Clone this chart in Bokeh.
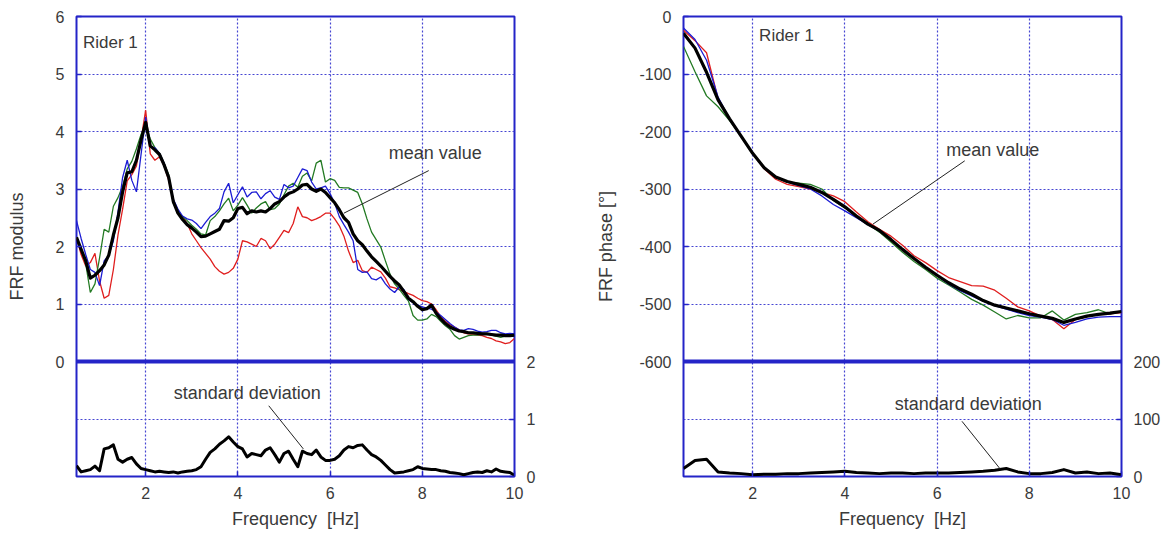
from bokeh.plotting import figure
from bokeh.models import Range1d, LinearAxis, FixedTicker, Span, Label, Arrow
from bokeh.layouts import row
from bokeh.embed import file_html
from bokeh.resources import INLINE

# ---------------- data ----------------
freq_mod = [round(0.5 + 0.1 * i, 1) for i in range(96)]

mod_mean = [2.16,1.95,1.75,1.45,1.50,1.58,1.68,1.85,2.20,2.50,
            2.95,3.28,3.30,3.50,3.85,4.16,3.75,3.68,3.60,3.42,
            3.20,2.78,2.58,2.47,2.38,2.32,2.25,2.17,2.18,2.22,
            2.26,2.30,2.45,2.44,2.50,2.66,2.68,2.57,2.62,2.60,
            2.62,2.60,2.66,2.74,2.78,2.86,2.92,2.95,3.00,3.07,
            3.08,3.00,2.96,3.00,2.94,2.85,2.76,2.64,2.50,2.42,
            2.22,2.10,2.03,1.92,1.82,1.74,1.66,1.57,1.48,1.40,
            1.33,1.22,1.10,1.04,0.96,0.90,0.92,0.98,0.84,0.74,
            0.66,0.60,0.56,0.53,0.52,0.50,0.50,0.49,0.48,0.48,
            0.47,0.46,0.46,0.45,0.45,0.46]

mod_red = [2.16,1.86,1.66,1.72,1.88,1.40,1.10,1.15,1.60,2.20,
           2.65,3.14,3.25,3.40,3.86,4.37,3.61,3.50,3.56,3.40,
           3.15,2.80,2.62,2.52,2.40,2.22,2.10,1.98,1.88,1.78,
           1.65,1.57,1.52,1.55,1.62,1.78,2.10,2.08,2.04,2.00,
           2.14,2.10,1.96,2.04,2.16,2.28,2.24,2.40,2.69,2.52,
           2.50,2.45,2.48,2.52,2.58,2.58,2.48,2.36,2.18,1.92,
           1.72,1.76,1.58,1.55,1.64,1.60,1.56,1.45,1.30,1.28,
           1.25,1.22,1.18,1.15,1.10,1.06,1.04,1.00,0.90,0.78,
           0.70,0.64,0.60,0.55,0.50,0.48,0.47,0.46,0.45,0.42,
           0.40,0.36,0.34,0.31,0.33,0.40]

mod_blue = [2.45,2.14,1.86,1.60,1.55,1.32,1.75,1.85,2.10,2.60,
            3.20,3.50,3.15,2.95,3.60,4.25,3.73,3.72,3.62,3.45,
            3.20,2.82,2.65,2.53,2.48,2.46,2.40,2.31,2.42,2.52,
            2.58,2.66,2.95,3.10,2.76,2.90,3.04,2.86,2.94,2.95,
            2.83,2.92,2.97,2.86,2.82,3.08,3.02,3.05,3.20,3.35,
            3.32,3.12,3.00,3.02,3.05,2.92,2.75,2.52,2.38,2.25,
            2.10,1.60,1.55,1.56,1.44,1.42,1.47,1.35,1.26,1.20,
            1.30,1.25,1.08,1.02,0.98,0.95,0.93,0.91,0.86,0.80,
            0.73,0.66,0.60,0.55,0.54,0.57,0.56,0.53,0.51,0.52,
            0.54,0.54,0.50,0.48,0.49,0.48]

mod_green = [2.16,1.95,1.70,1.20,1.35,1.80,2.30,2.25,2.70,2.85,
             3.05,3.35,3.48,3.70,3.95,4.10,3.87,3.72,3.62,3.45,
             3.25,2.75,2.62,2.52,2.45,2.37,2.30,2.22,2.20,2.45,
             2.52,2.62,2.74,2.84,2.62,2.72,2.85,2.72,2.58,2.67,
             2.74,2.78,2.64,2.66,2.74,2.90,3.05,3.10,3.03,3.22,
             3.28,3.14,3.45,3.50,3.12,3.18,3.15,3.03,3.02,3.02,
             2.98,2.94,2.74,2.48,2.25,2.12,1.99,1.75,1.52,1.35,
             1.26,1.15,1.05,0.80,0.72,0.72,0.74,0.82,0.78,0.70,
             0.62,0.56,0.45,0.39,0.42,0.45,0.46,0.46,0.47,0.48,
             0.46,0.44,0.42,0.44,0.45,0.45]

mod_std = [0.19,0.08,0.10,0.12,0.18,0.10,0.48,0.50,0.55,0.30,
           0.25,0.30,0.33,0.22,0.14,0.12,0.10,0.08,0.09,0.08,
           0.07,0.08,0.06,0.08,0.09,0.10,0.12,0.17,0.30,0.42,
           0.48,0.56,0.62,0.69,0.60,0.52,0.48,0.34,0.40,0.38,
           0.36,0.46,0.50,0.38,0.25,0.40,0.44,0.30,0.17,0.44,
           0.40,0.38,0.46,0.34,0.28,0.28,0.30,0.36,0.46,0.52,
           0.50,0.54,0.55,0.46,0.38,0.34,0.28,0.20,0.12,0.06,
           0.07,0.08,0.10,0.12,0.17,0.14,0.13,0.12,0.12,0.10,
           0.09,0.07,0.06,0.05,0.03,0.05,0.07,0.08,0.07,0.10,
           0.08,0.13,0.09,0.08,0.07,0.02]

freq_ph = [0.5 + 0.25 * i for i in range(39)]

ph_mean = [-29,-55,-97,-145,-178,-208,-238,-263,-279,-287,-292,-297,-306,-318,-331,
           -347,-361,-372,-388,-405,-421,-436,-450,-463,-474,-483,-494,-502,-507,-512,
           -517,-521,-525,-532,-526,-521,-518,-516,-513]
ph_red = [-24,-42,-63,-143,-178,-208,-238,-265,-283,-292,-296,-300,-306,-312,-322,
          -340,-357,-370,-382,-398,-416,-428,-442,-454,-461,-468,-469,-476,-490,-505,
          -512,-521,-527,-543,-527,-522,-518,-517,-515]
ph_blue = [-20,-40,-76,-140,-178,-208,-238,-263,-279,-288,-294,-300,-312,-327,-338,
           -350,-362,-373,-388,-405,-421,-437,-451,-465,-477,-486,-495,-503,-509,-515,
           -520,-523,-527,-537,-532,-526,-523,-522,-522]
ph_green = [-52,-96,-138,-157,-181,-208,-237,-263,-280,-288,-290,-292,-300,-320,-333,
            -347,-361,-375,-392,-410,-426,-440,-455,-467,-479,-492,-502,-514,-526,-520,
            -524,-524,-512,-528,-518,-515,-510,-517,-513]
ph_std = [14,28,30,8,6,5,3,4,4,5,5,6,7,8,9,7,6,5,6,6,5,6,6,6,7,8,9,11,14,8,5,5,7,12,6,8,5,6,3]

x_ticks = [2, 4, 6, 8, 10]
mod_ticks = [0, 1, 2, 3, 4, 5, 6]
mod_std_ticks = [0, 1, 2]
ph_ticks = [0, -100, -200, -300, -400, -500, -600]
ph_std_ticks = [0, 100, 200]

# ---------------- style ----------------
FRAME = "#2424c8"
GRID = "#4646d2"
TXT = "#3a3a3a"
FONT = "Liberation Sans"
RED = "#e01e1e"
BLUE = "#1c1cd4"
GREEN = "#237a23"


def panel(width, bl, br, y0, y1, yticks, grid_y, sep_y, std_range, std_ticks,
          ylabel, ylabel_standoff):
    p = figure(width=width, height=533, x_range=Range1d(0.5, 10), y_range=Range1d(y0, y1),
               output_backend="svg", toolbar_location=None,
               min_border_left=bl, min_border_right=br, min_border_top=16, min_border_bottom=57,
               outline_line_color=FRAME, outline_line_width=2,
               background_fill_color="white", border_fill_color="white")
    p.extra_y_ranges = {"std": Range1d(*std_range)}
    p.add_layout(LinearAxis(y_range_name="std"), "right")

    p.xaxis.ticker = FixedTicker(ticks=x_ticks)
    p.yaxis[0].ticker = FixedTicker(ticks=yticks)
    p.yaxis[0].major_label_overrides = {t: str(t) for t in yticks}
    p.yaxis[1].ticker = FixedTicker(ticks=std_ticks)
    for ax in list(p.xaxis) + list(p.yaxis):
        ax.axis_line_color = None
        ax.major_tick_in = 5
        ax.major_tick_out = 0
        ax.major_tick_line_color = FRAME
        ax.major_tick_line_width = 1.5
        ax.minor_tick_line_color = None
        ax.major_label_text_font = FONT
        ax.major_label_text_font_size = "16px"
        ax.major_label_text_color = TXT
        ax.major_label_standoff = 12
        ax.axis_label_text_font = FONT
        ax.axis_label_text_font_size = "18px"
        ax.axis_label_text_font_style = "normal"
        ax.axis_label_text_color = TXT
    p.xaxis.major_label_standoff = 10
    p.xaxis.axis_label = "Frequency\u00a0 [Hz]"
    p.xaxis.axis_label_standoff = 7
    p.yaxis[0].axis_label = ylabel
    p.yaxis[0].axis_label_standoff = ylabel_standoff

    p.xgrid.ticker = FixedTicker(ticks=[2, 4, 6, 8])
    p.ygrid.ticker = FixedTicker(ticks=grid_y)
    for g in (p.xgrid, p.ygrid):
        g.grid_line_color = GRID
        g.grid_line_dash = "2 2"
        g.grid_line_width = 1.2
    p.add_layout(Span(location=sep_y, dimension="width", line_color=FRAME, line_width=4))
    return p


def label(p, x, y, text, size="18px"):
    p.add_layout(Label(x=x, y=y, text=text, text_font=FONT, text_font_size=size,
                       text_color=TXT, text_baseline="middle", text_align="left"))


def pointer(p, x0, y0, x1, y1):
    p.add_layout(Arrow(end=None, x_start=x0, y_start=y0, x_end=x1, y_end=y1,
                       line_color="#222222", line_width=1))


# ---------------- left panel ----------------
pl = panel(584, 76, 70, -2, 6, mod_ticks, [-1, 1, 2, 3, 4, 5], 0, (0, 8), mod_std_ticks,
           "FRF modulus", 26)
pl.line(freq_mod, mod_red, line_color=RED, line_width=1.3)
pl.line(freq_mod, mod_green, line_color=GREEN, line_width=1.3)
pl.line(freq_mod, mod_blue, line_color=BLUE, line_width=1.3)
pl.line(freq_mod, mod_mean, line_color="black", line_width=3.2, line_join="round")
pl.line(freq_mod, mod_std, line_color="black", line_width=3, y_range_name="std", line_join="round")

label(pl, 0.64, 5.54, "Rider 1", size="17px")
label(pl, 7.27, 3.62, "mean value")
pointer(pl, 8.14, 3.32, 6.30, 2.58)
label(pl, 2.61, -0.54, "standard deviation")
pointer(pl, 4.67, -0.77, 5.42, -1.52)

# ---------------- right panel ----------------
pr = panel(584, 99, 47, -800, 0, ph_ticks, [-700, -500, -400, -300, -200, -100], -600,
           (0, 800), ph_std_ticks, "FRF phase [°]", 20)
pr.line(freq_ph, ph_red, line_color=RED, line_width=1.3)
pr.line(freq_ph, ph_green, line_color=GREEN, line_width=1.3)
pr.line(freq_ph, ph_blue, line_color=BLUE, line_width=1.3)
pr.line(freq_ph, ph_mean, line_color="black", line_width=3.2, line_join="round")
pr.line(freq_ph, ph_std, line_color="black", line_width=3, y_range_name="std", line_join="round")

label(pr, 2.14, -33, "Rider 1", size="17px")
label(pr, 6.20, -233, "mean value")
pointer(pr, 6.60, -251, 4.61, -361)
label(pr, 5.08, -674, "standard deviation")
pointer(pr, 6.54, -704, 7.37, -787)

layout = row(pl, pr)
open("out.html", "w").write(file_html(layout, INLINE))
